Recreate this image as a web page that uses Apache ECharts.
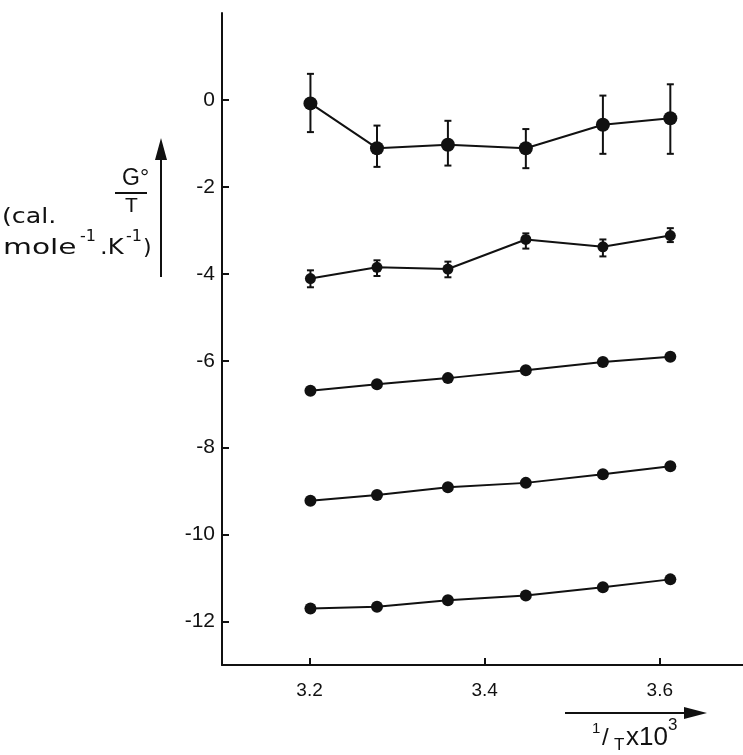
<!DOCTYPE html>
<html>
<head>
<meta charset="utf-8">
<script src="https://cdn.jsdelivr.net/npm/echarts@6/dist/echarts.min.js"></script>
<style>
  html, body { margin: 0; padding: 0; background: #fff; }
  #main { width: 743px; height: 755px; }
</style>
</head>
<body>
<div id="main"></div>
<script>
// 1/T x 10^3 positions of the six temperatures
var invT = [3.201, 3.277, 3.358, 3.447, 3.535, 3.612];

// G°/T curves, top to bottom
var curveA = [-0.08, -1.11, -1.03, -1.11, -0.57, -0.42];
var curveB = [-4.11, -3.85, -3.89, -3.21, -3.38, -3.12];
var curveC = [-6.69, -6.54, -6.40, -6.22, -6.03, -5.91];
var curveD = [-9.22, -9.09, -8.91, -8.81, -8.61, -8.43];
var curveE = [-11.70, -11.66, -11.51, -11.40, -11.21, -11.03];

// error bar ends
var errALow  = [-0.74, -1.54, -1.51, -1.57, -1.24, -1.24];
var errAHigh = [0.60, -0.59, -0.48, -0.67, 0.10, 0.36];
var errBLow  = [-4.31, -4.05, -4.08, -3.42, -3.60, -3.27];
var errBHigh = [-3.92, -3.69, -3.72, -3.07, -3.21, -2.95];

var xTicks = [3.2, 3.4, 3.6];
var yTicks = [-12, -10, -8, -6, -4, -2, 0];

var ink = '#111';
var font = 'Liberation Sans';
var fontU = 'DejaVu Sans';

function pairs(ys) {
  return invT.map(function (x, i) { return [x, ys[i]]; });
}
function bars(lo, hi) {
  return invT.map(function (x, i) { return [x, lo[i], hi[i]]; });
}

function lineSeries(ys, size) {
  return {
    type: 'line',
    data: pairs(ys),
    symbol: 'circle',
    symbolSize: size,
    itemStyle: { color: ink },
    lineStyle: { color: ink, width: 2 },
    z: 3
  };
}

function errorSeries(lo, hi) {
  return {
    type: 'custom',
    data: bars(lo, hi),
    encode: { x: 0, y: [1, 2] },
    renderItem: function (params, api) {
      var x = api.value(0);
      var top = api.coord([x, api.value(2)]);
      var bot = api.coord([x, api.value(1)]);
      var cap = 3.5;
      var style = { stroke: ink, lineWidth: 2 };
      return {
        type: 'group',
        children: [
          { type: 'line', shape: { x1: top[0], y1: top[1], x2: bot[0], y2: bot[1] }, style: style },
          { type: 'line', shape: { x1: top[0] - cap, y1: top[1], x2: top[0] + cap, y2: top[1] }, style: style },
          { type: 'line', shape: { x1: bot[0] - cap, y1: bot[1], x2: bot[0] + cap, y2: bot[1] }, style: style }
        ]
      };
    },
    z: 2
  };
}

function label(x, y, str, size, family, sx) {
  return {
    type: 'text', x: x, y: y, scaleX: sx || 1,
    style: { text: str, font: size + 'px ' + (family || font), fill: ink }
  };
}

var chart = echarts.init(document.getElementById('main'));

var option = {
  animation: false,
  grid: { left: 222, right: 0, top: 13, bottom: 90 },
  xAxis: {
    type: 'value',
    min: 3.1,
    max: 3.695,
    axisLine: { onZero: false, lineStyle: { color: ink, width: 2 } },
    axisTick: { inside: true, length: 7, customValues: xTicks, lineStyle: { color: ink, width: 2 } },
    axisLabel: {
      customValues: xTicks,
      color: ink, fontSize: 19, fontFamily: font, margin: 16,
      formatter: function (v) { return v.toFixed(1); }
    },
    splitLine: { show: false }
  },
  yAxis: {
    type: 'value',
    min: -13,
    max: 2,
    axisLine: { onZero: false, lineStyle: { color: ink, width: 2 } },
    axisTick: { inside: true, length: 7, customValues: yTicks, lineStyle: { color: ink, width: 2 } },
    axisLabel: {
      customValues: yTicks,
      color: ink, fontSize: 21, fontFamily: font, margin: 7,
      formatter: function (v) { return String(v); }
    },
    splitLine: { show: false }
  },
  series: [
    lineSeries(curveA, 14),
    errorSeries(errALow, errAHigh),
    lineSeries(curveB, 11),
    errorSeries(errBLow, errBHigh),
    lineSeries(curveC, 12),
    lineSeries(curveD, 12),
    lineSeries(curveE, 12)
  ],
  graphic: [
    // y quantity arrow
    { type: 'line', shape: { x1: 161, y1: 277, x2: 161, y2: 155 }, style: { stroke: ink, lineWidth: 2 } },
    { type: 'polygon', shape: { points: [[161, 138], [155, 160], [167, 160]] }, style: { fill: ink } },
    // G°/T fraction
    label(122, 167, 'G\u00b0', 23),
    { type: 'line', shape: { x1: 115, y1: 193, x2: 147, y2: 193 }, style: { stroke: ink, lineWidth: 2 } },
    label(125, 196, 'T', 21),
    // units
    label(2, 206, '(cal.', 22, fontU, 1.15),
    label(3, 237, 'mole', 22, fontU, 1.35),
    label(80, 229, '-1', 16, fontU),
    label(100, 237, '.K', 22, fontU, 1.1),
    label(126, 229, '-1', 16, fontU),
    label(143, 237, ')', 22, fontU),
    // x quantity arrow
    { type: 'line', shape: { x1: 565, y1: 713, x2: 690, y2: 713 }, style: { stroke: ink, lineWidth: 2 } },
    { type: 'polygon', shape: { points: [[707, 713], [684, 707], [684, 719]] }, style: { fill: ink } },
    label(592, 721, '1', 15),
    label(602, 726, '/', 24),
    label(614, 737, 'T', 17),
    label(626, 725, 'x10', 26),
    label(668, 717, '3', 17)
  ]
};

chart.setOption(option);
</script>
</body>
</html>
